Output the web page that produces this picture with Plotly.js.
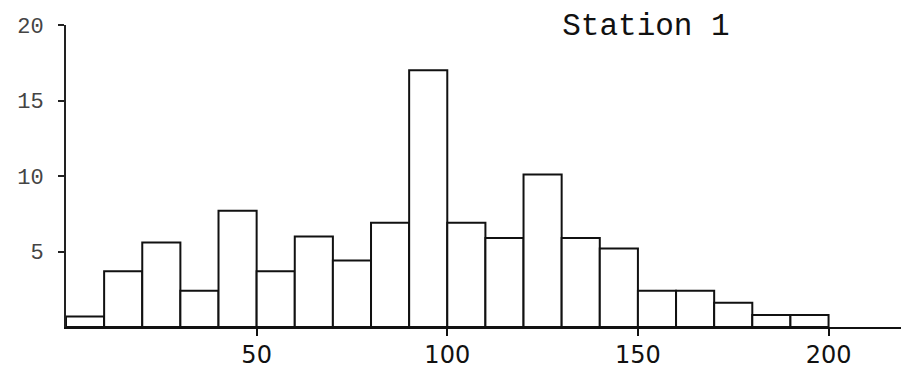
<!DOCTYPE html>
<html>
<head>
<meta charset="utf-8">
<script src="https://cdn.plot.ly/plotly-3.0.1.min.js"></script>
<style>html,body{margin:0;padding:0;background:#fff;}#chart{width:901px;height:369px;}</style>
</head>
<body>
<div id="chart"></div>
<script>
// Bin left edges (width 10) and bar heights
var binStarts = [0, 10, 20, 30, 40, 50, 60, 70, 80, 90, 100, 110, 120, 130, 140, 150, 160, 170, 180, 190];
var heights   = [0.7, 3.7, 5.6, 2.4, 7.7, 3.7, 6.0, 4.4, 6.9, 17.0, 6.9, 5.9, 10.1, 5.9, 5.2, 2.4, 2.4, 1.6, 0.8, 0.8];
var xTickVals = [50, 100, 150, 200];
var xTickText = ['50', '100', '150', '200'];
var yTickVals = [5, 10, 15, 20];
var yTickText = ['5', '10', '15', '20'];
var titleText = 'Station 1';

var trace = {
  type: 'bar',
  x: binStarts,
  y: heights,
  width: 10,
  offset: 0,
  marker: {color: '#ffffff', line: {color: '#111111', width: 2}},
  hoverinfo: 'none'
};

var layout = {
  width: 901, height: 369,
  margin: {l: 66, r: 0, t: 25, b: 42, pad: 0},
  paper_bgcolor: '#ffffff', plot_bgcolor: '#ffffff',
  showlegend: false,
  bargap: 0,
  title: {
    text: titleText,
    font: {family: 'Liberation Mono, DejaVu Sans Mono, monospace', size: 31, color: '#111111'},
    x: 0.624, xanchor: 'left', xref: 'container',
    y: 0.935, yanchor: 'middle', yref: 'container'
  },
  xaxis: {
    range: [0, 219],
    showgrid: false, zeroline: false,
    showline: true, linecolor: '#111111', linewidth: 2,
    ticks: 'outside', ticklen: 7, tickwidth: 2, tickcolor: '#111111',
    tickmode: 'array', tickvals: xTickVals, ticktext: xTickText,
    ticklabelstandoff: -2,
    tickfont: {family: 'DejaVu Sans, sans-serif', size: 24, color: '#111111'}
  },
  yaxis: {
    range: [0, 20],
    showgrid: false, zeroline: false,
    showline: true, linecolor: '#222222', linewidth: 2,
    ticks: 'outside', ticklen: 6, tickwidth: 2, tickcolor: '#222222',
    tickmode: 'array', tickvals: yTickVals, ticktext: yTickText,
    ticklabelstandoff: 10,
    tickfont: {family: 'Liberation Mono, DejaVu Sans Mono, monospace', size: 22, color: '#444444'}
  }
};

Plotly.newPlot('chart', [trace], layout, {staticPlot: true, displayModeBar: false});
</script>
</body>
</html>
